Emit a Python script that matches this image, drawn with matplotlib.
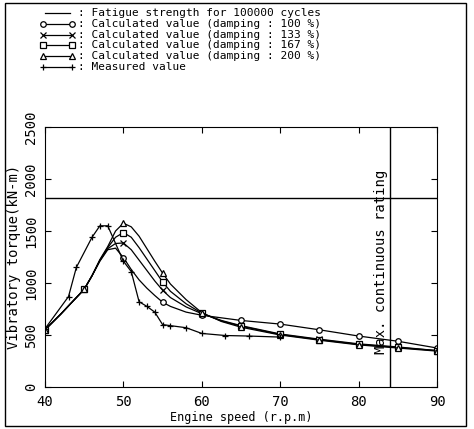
import matplotlib
matplotlib.use('Agg')
import matplotlib.pyplot as plt
from matplotlib.lines import Line2D
from matplotlib.patches import Rectangle

plt.rcParams['font.family'] = ['DejaVu Sans Mono', 'DejaVu Sans']

# data
speed_calc = [40, 42, 44, 45, 46, 47, 48, 49, 50, 51, 52, 53, 54, 55, 56, 58, 60,
              62.5, 65, 70, 75, 80, 85, 90]
calc_100 = [550, 700, 860, 940, 1070, 1210, 1320, 1335, 1245, 1130, 1030, 950, 880, 815,
            775, 720, 690, 665, 640, 605, 550, 490, 440, 375]
calc_133 = [550, 700, 860, 940, 1070, 1215, 1330, 1380, 1385, 1320, 1220, 1120, 1020, 930,
            860, 770, 705, 640, 590, 510, 460, 415, 385, 350]
calc_167 = [550, 700, 860, 940, 1070, 1220, 1340, 1440, 1485, 1440, 1340, 1230, 1120, 1010,
            920, 800, 710, 635, 585, 505, 455, 410, 380, 350]
calc_200 = [550, 700, 860, 940, 1070, 1225, 1350, 1500, 1575, 1540, 1450, 1330, 1210, 1095,
            990, 840, 715, 630, 575, 500, 450, 405, 375, 345]

speed_meas = [40, 43, 44, 46, 47, 48, 50, 51, 52, 53, 54, 55, 56, 58, 60, 63, 66, 70]
measured = [560, 870, 1150, 1440, 1550, 1550, 1210, 1110, 820, 775, 720, 600, 590, 570,
            515, 495, 490, 480]

fatigue = 1820
max_rating = 84

calc_series = [(calc_100, 'o', 'Calculated value (damping : 100 %)'),
               (calc_133, 'x', 'Calculated value (damping : 133 %)'),
               (calc_167, 's', 'Calculated value (damping : 167 %)'),
               (calc_200, '^', 'Calculated value (damping : 200 %)')]

W, H = 474, 429
fig = plt.figure(figsize=(W / 100, H / 100), dpi=100)
ax = fig.add_axes([45 / W, 1 - 387 / H, (437 - 45) / W, (387 - 127) / H])

marks = [i for i, s in enumerate(speed_calc) if s % 5 == 0]
for vals, m, lab in calc_series:
    ax.plot(speed_calc, vals, color='black', lw=0.9, marker=m, markevery=marks,
            ms=4, mfc='white', mew=0.9)
ax.plot(speed_meas, measured, color='black', lw=0.9, marker='+', ms=5, mew=0.9)
ax.axhline(fatigue, color='black', lw=1)
ax.axvline(max_rating, color='black', lw=1)
ax.text(max_rating - 0.2, 1200, 'Max. continuous rating', rotation=90,
        ha='right', va='center', fontsize=10)

ax.set_xlim(40, 90)
ax.set_ylim(0, 2500)
ax.set_xticks(range(40, 91, 10))
ax.set_yticks(range(0, 2501, 500))
ax.tick_params(direction='in', top=True, right=True, length=4, labelsize=10)
ax.tick_params(axis='x', pad=6)
ax.tick_params(axis='y', pad=5)
for t in ax.get_yticklabels():
    t.set_rotation(90)
    t.set_va('center')
ax.set_xlabel('Engine speed (r.p.m)', fontsize=8.5, labelpad=1)
ax.set_ylabel('Vibratory torque(kN-m)', fontsize=10, labelpad=2)

# legend drawn by hand at the top
rows = [(None, 'Fatigue strength for 100000 cycles')]
rows += [(m, lab) for _, m, lab in calc_series]
rows += [('+', 'Measured value')]
for k, (m, lab) in enumerate(rows):
    y = 1 - (13.3 + 10.7 * k) / H
    if m is None:
        ln = Line2D([45 / W, 70 / W], [y, y], transform=fig.transFigure,
                    color='black', lw=0.9)
    else:
        ln = Line2D([43 / W, 72 / W], [y, y], transform=fig.transFigure, color='black',
                    lw=0.9, marker=m, ms=4 if m != '+' else 5, mfc='white', mew=0.9)
    fig.add_artist(ln)
    fig.text(78 / W, y, ': ' + lab, fontsize=8, va='center', ha='left')

fig.add_artist(Rectangle((5 / W, 3 / H), 461 / W, 423 / H, transform=fig.transFigure,
                         fill=False, ec='black', lw=1))

fig.savefig('out.png', dpi=100)
